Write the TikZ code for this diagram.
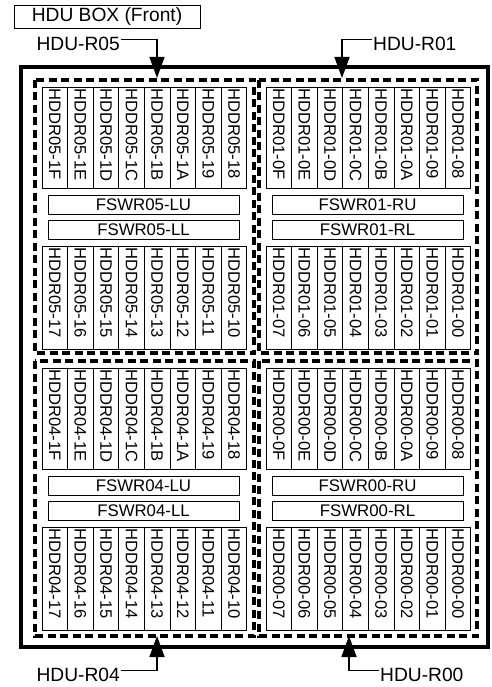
\documentclass[tikz,border=0pt]{standalone}
\usepackage{fontspec}
\setmainfont{Liberation Sans}
\usetikzlibrary{arrows.meta}
\begin{document}
\begin{tikzpicture}[x=1pt,y=-1pt,
  cellbox/.style={draw, line width=0.9pt, rotate=-90, inner xsep=1.5pt, inner ysep=0pt,
    minimum height=25.6pt, text width=98pt, align=left, font=\fontsize{16.6}{19}\selectfont},
  cellboxb/.style={cellbox, text width=100pt},
  fswbox/.style={draw, line width=0.9pt, minimum width=191pt, minimum height=19pt, inner sep=0pt,
    font=\fontsize{16.8}{19}\selectfont},
  lbl/.style={inner sep=1pt, font=\fontsize{19.2}{22}\selectfont},
  dsh/.style={line width=3.2pt, dash pattern=on 8pt off 4.5pt},
  arr/.style={line width=1.4pt, -{Triangle[length=21pt,width=15pt]}}]
\useasboundingbox (0,0) rectangle (491,687);
% header
\node[draw, line width=0.9pt, minimum width=186pt, minimum height=23pt, inner sep=0pt,
  font=\fontsize{19.2}{22}\selectfont] (hdr) at (107,16.5) {HDU BOX (Front)};
% outer box
\draw[line width=4pt] (21,67) rectangle (488,647);
% dashed quadrants
\draw[dsh] (35,80) rectangle (254,353);
\draw[dsh] (259,80) rectangle (477,353);
\draw[dsh] (35,361) rectangle (254,636);
\draw[dsh] (259,361) rectangle (477,636);
% drive slots and switches
\foreach \q/\xl/\yt/\num/\side/\pre in {a/42/87/05/L/1, b/266/87/01/R/0, c/42/368/04/L/1, d/266/368/00/R/0}{
  \foreach \h [count=\i from 0] in {F,E,D,C,B,A,9,8}{
    \node[cellbox] (\q t\i) at (\xl+25.6*\i+12.8, \yt+50.5) {\mbox{HDDR\num-\pre\h}};
  }
  \foreach \h [count=\i from 0] in {7,6,5,4,3,2,1,0}{
    \node[cellboxb] (\q b\i) at (\xl+25.6*\i+12.8, \yt+210.5) {\mbox{HDDR\num-\pre\h}};
  }
  \node[fswbox] (\q u) at (\xl+101.5, \yt+117.5) {FSWR\num-\side U};
  \node[fswbox] (\q l) at (\xl+101.5, \yt+142.5) {FSWR\num-\side L};
}
% labels and arrows
\node[lbl, anchor=east] (r05) at (121,43.5) {HDU-R05};
\coordinate (t05) at (157,78);
\draw[arr] ([yshift=4pt]r05.east) -| (t05);
\node[lbl, anchor=west] (r01) at (372,43.5) {HDU-R01};
\coordinate (t01) at (342,78);
\draw[arr] ([yshift=4pt]r01.west) -| (t01);
\node[lbl, anchor=east] (r04) at (121,674.5) {HDU-R04};
\coordinate (t04) at (157,636);
\draw[arr] ([yshift=4pt]r04.east) -| (t04);
\node[lbl, anchor=west] (r00) at (379,674.5) {HDU-R00};
\coordinate (t00) at (349,636);
\draw[arr] ([yshift=4pt]r00.west) -| (t00);
\end{tikzpicture}
\end{document}
